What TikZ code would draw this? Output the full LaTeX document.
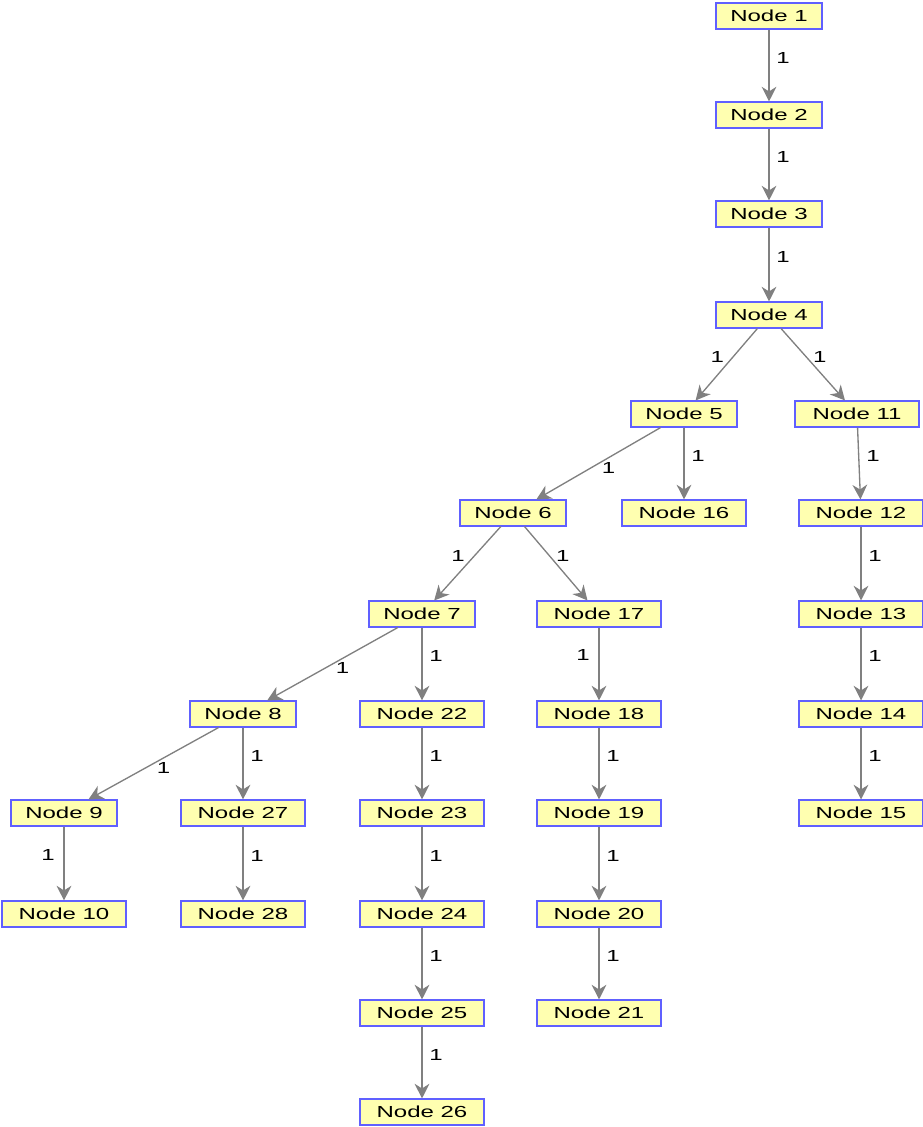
\documentclass[tikz,border=0pt]{standalone}
\usepackage{fontspec}
\setmainfont{Liberation Sans}[FakeStretch=1.5]
\usetikzlibrary{arrows.meta}
\definecolor{boxfill}{RGB}{255,255,176}
\definecolor{boxline}{RGB}{96,96,255}
\definecolor{edgegray}{RGB}{128,128,128}
\tikzset{
	tnode/.style={draw=boxline, fill=boxfill, line width=0.8pt, minimum width=79.5pt, minimum height=19.5pt, inner xsep=6pt, inner ysep=0pt, font=\fontsize{12}{13}\selectfont},
	wnode/.style={tnode, minimum width=93pt},
	tedge/.style={draw=edgegray, line width=1pt, -{Stealth[length=11pt, width=11pt, inset=3.5pt]}},
	wlab/.style={inner sep=0pt, font=\fontsize{12}{13}\selectfont},
	lr/.style={wlab, midway, xshift=10.5pt, yshift=6pt},
	ll/.style={wlab, midway, xshift=-12pt, yshift=6.5pt},
	lul/.style={wlab, midway, xshift=-7pt, yshift=6pt},
	lur/.style={wlab, midway, xshift=5pt, yshift=6pt},
	ldr/.style={wlab, midway, xshift=7.5pt, yshift=-3pt}
}
\begin{document}
\begin{tikzpicture}[x=0.75pt, y=-0.75pt]
		\useasboundingbox (0,0) rectangle (923,1127);
		% nodes
		\node[tnode] (n1) at (769,16) {Node 1};
		\node[tnode] (n2) at (769,115) {Node 2};
		\node[tnode] (n3) at (769,214) {Node 3};
		\node[tnode] (n4) at (769,315) {Node 4};
		\node[tnode] (n5) at (684,414) {Node 5};
		\node[wnode] (n11) at (857,414) {Node 11};
		\node[tnode] (n6) at (513,513) {Node 6};
		\node[wnode] (n16) at (684,513) {Node 16};
		\node[wnode] (n12) at (861,513) {Node 12};
		\node[tnode] (n7) at (422,614) {Node 7};
		\node[wnode] (n17) at (599,614) {Node 17};
		\node[wnode] (n13) at (861,614) {Node 13};
		\node[tnode] (n8) at (243,714) {Node 8};
		\node[wnode] (n22) at (422,714) {Node 22};
		\node[wnode] (n18) at (599,714) {Node 18};
		\node[wnode] (n14) at (861,714) {Node 14};
		\node[tnode] (n9) at (64,813) {Node 9};
		\node[wnode] (n27) at (243,813) {Node 27};
		\node[wnode] (n23) at (422,813) {Node 23};
		\node[wnode] (n19) at (599,813) {Node 19};
		\node[wnode] (n15) at (861,813) {Node 15};
		\node[wnode] (n10) at (64,914) {Node 10};
		\node[wnode] (n28) at (243,914) {Node 28};
		\node[wnode] (n24) at (422,914) {Node 24};
		\node[wnode] (n20) at (599,914) {Node 20};
		\node[wnode] (n25) at (422,1013) {Node 25};
		\node[wnode] (n21) at (599,1013) {Node 21};
		\node[wnode] (n26) at (422,1112) {Node 26};
		% edges
		\draw[tedge] (n1) -- (n2) node[lr] {1};
		\draw[tedge] (n2) -- (n3) node[lr] {1};
		\draw[tedge] (n3) -- (n4) node[lr] {1};
		\draw[tedge] (n4) -- (n5) node[lul] {1};
		\draw[tedge] (n4) -- (n11) node[lur] {1};
		\draw[tedge] (n5) -- (n6) node[ldr] {1};
		\draw[tedge] (n5) -- (n16) node[lr] {1};
		\draw[tedge] (n11) -- (n12) node[lr] {1};
		\draw[tedge] (n6) -- (n7) node[lul] {1};
		\draw[tedge] (n6) -- (n17) node[lur] {1};
		\draw[tedge] (n12) -- (n13) node[lr] {1};
		\draw[tedge] (n7) -- (n8) node[ldr] {1};
		\draw[tedge] (n7) -- (n22) node[lr] {1};
		\draw[tedge] (n17) -- (n18) node[ll] {1};
		\draw[tedge] (n13) -- (n14) node[lr] {1};
		\draw[tedge] (n8) -- (n9) node[ldr] {1};
		\draw[tedge] (n8) -- (n27) node[lr] {1};
		\draw[tedge] (n22) -- (n23) node[lr] {1};
		\draw[tedge] (n18) -- (n19) node[lr] {1};
		\draw[tedge] (n14) -- (n15) node[lr] {1};
		\draw[tedge] (n9) -- (n10) node[ll] {1};
		\draw[tedge] (n27) -- (n28) node[lr] {1};
		\draw[tedge] (n23) -- (n24) node[lr] {1};
		\draw[tedge] (n19) -- (n20) node[lr] {1};
		\draw[tedge] (n24) -- (n25) node[lr] {1};
		\draw[tedge] (n20) -- (n21) node[lr] {1};
		\draw[tedge] (n25) -- (n26) node[lr] {1};
	\end{tikzpicture}
\end{document}
